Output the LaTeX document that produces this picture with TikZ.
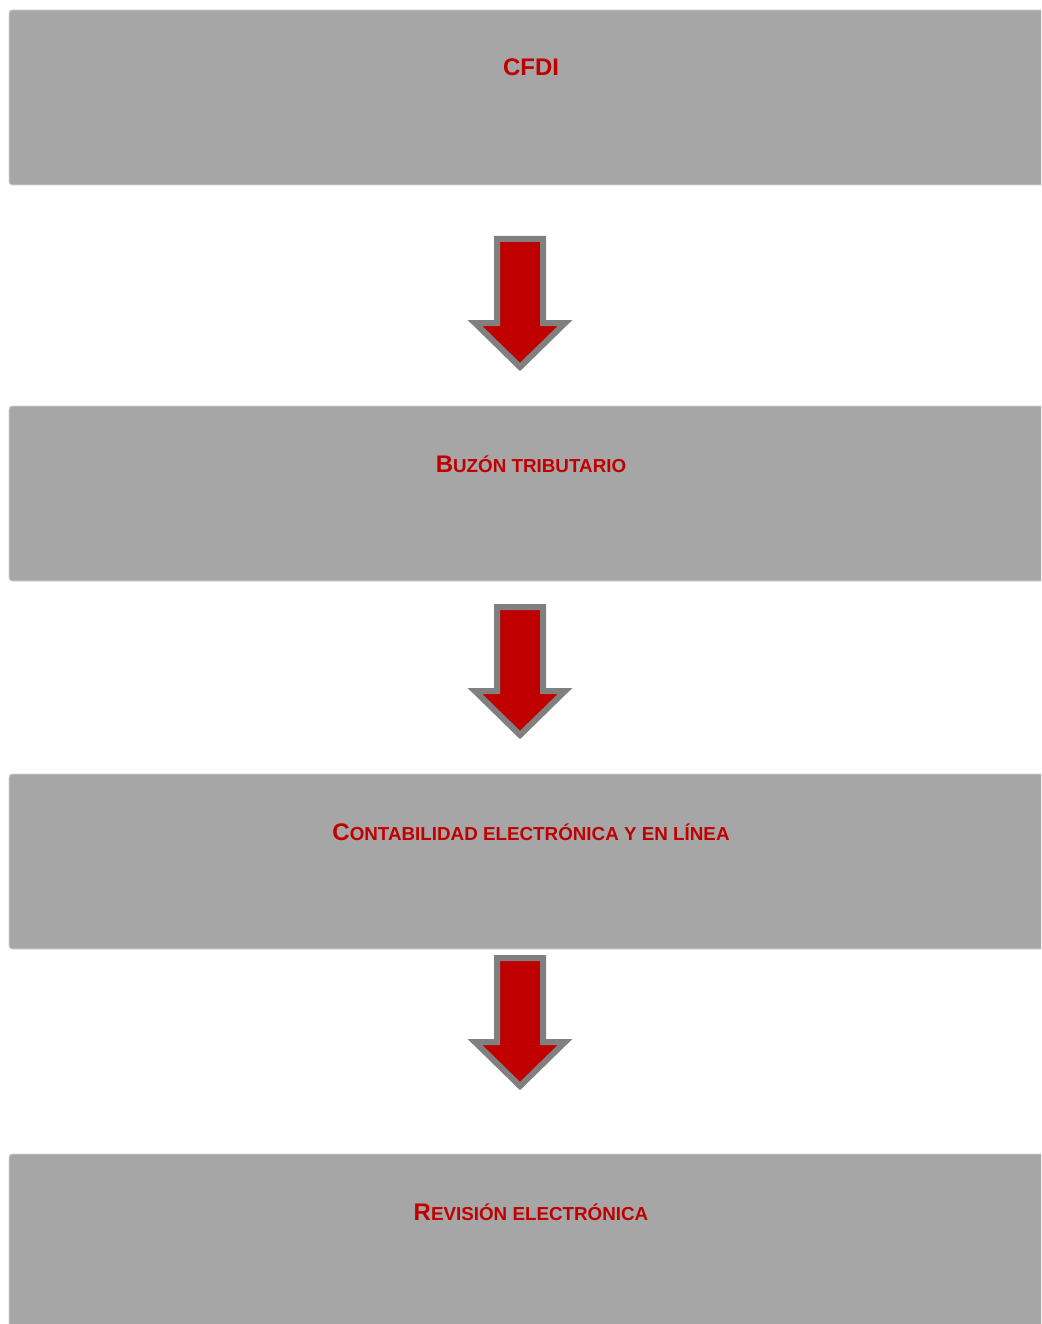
\documentclass[tikz,border=0pt]{standalone}
\usepackage{fontspec}
\setmainfont{Liberation Sans}
\definecolor{boxgray}{HTML}{A6A6A6}
\definecolor{edgegray}{HTML}{D4D4D4}
\definecolor{txtred}{HTML}{C00000}
\definecolor{arrred}{HTML}{C00000}
\definecolor{arrgray}{HTML}{808080}
\newcommand{\bigc}[1]{{\fontsize{24}{24}\selectfont #1}}
\newcommand{\smc}[1]{{\fontsize{18.8}{18.8}\selectfont #1}}
\tikzset{
  stagebox/.style={draw=edgegray, line width=0.8pt, fill=boxgray, rounded corners=3pt},
  stagelabel/.style={text=txtred, font=\bfseries, anchor=base, inner sep=0pt},
  downarrow/.style={draw=arrgray, fill=arrred, line width=6pt, line join=miter},
}
\begin{document}
\begin{tikzpicture}[x=1pt, y=-1pt]
\useasboundingbox (0,0) rectangle (1041,1324);
\clip (0,0) rectangle (1041,1324);
% boxes
\draw[stagebox] (9,10) rectangle (1070,185);
\draw[stagebox] (9,406) rectangle (1070,581);
\draw[stagebox] (9,774) rectangle (1070,949);
\draw[stagebox] (9,1154) rectangle (1070,1350);
\coordinate (b1) at (531,10);
\coordinate (b2) at (531,406);
\coordinate (b3) at (531,774);
\coordinate (b4) at (531,1154);
% labels
\node[stagelabel] (t1) at ([yshift=-66pt]b1) {\bigc{CFDI}};
\node[stagelabel] (t2) at ([yshift=-66pt]b2) {\bigc{B}\smc{UZÓN TRIBUTARIO}};
\node[stagelabel] (t3) at ([yshift=-66pt]b3) {\bigc{C}\smc{ONTABILIDAD ELECTRÓNICA Y EN LÍNEA}};
\node[stagelabel] (t4) at ([yshift=-66pt]b4) {\bigc{R}\smc{EVISIÓN ELECTRÓNICA}};
% arrows
\foreach \top/\nm in {236/a1, 604/a2, 955/a3}{
  \coordinate (\nm) at (520,\top);
  \draw[downarrow] ([shift={(-23,3)}]\nm) -- ([shift={(23,3)}]\nm) -- ([shift={(23,87)}]\nm)
    -- ([shift={(45,87)}]\nm) -- ([shift={(0,131)}]\nm) -- ([shift={(-45,87)}]\nm)
    -- ([shift={(-23,87)}]\nm) -- cycle;
}
\end{tikzpicture}
\end{document}
